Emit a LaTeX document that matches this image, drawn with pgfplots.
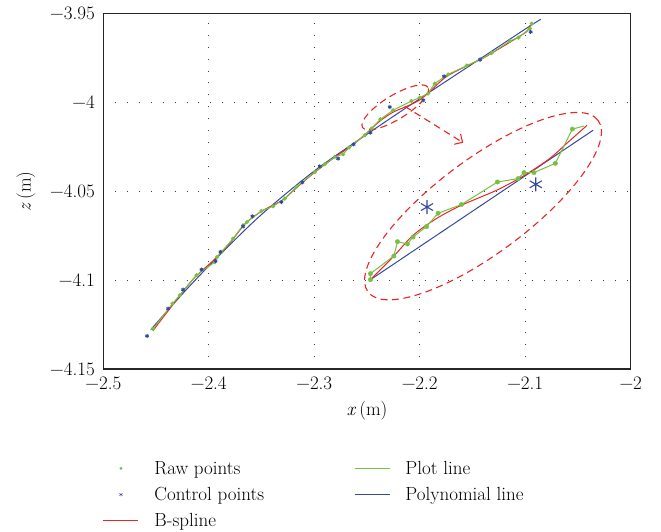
\documentclass[border=0pt]{standalone}
\usepackage{pgfplots}
\pgfplotsset{compat=1.18}
\usetikzlibrary{arrows.meta}
\definecolor{cgreen}{RGB}{118,192,67}
\definecolor{cred}{RGB}{232,38,38}
\definecolor{cblue}{RGB}{52,72,160}
\begin{document}
\begin{tikzpicture}[font=\fontsize{19bp}{23bp}\selectfont]
\path[use as bounding box] (-103.3bp,-163bp) rectangle (557.7bp,369bp);
\begin{axis}[
  scale only axis, width=527.4bp, height=355.2bp,
  xmin=-2.5, xmax=-2, ymin=-4.15, ymax=-3.95,
  /pgf/number format/assume math mode=true,
  xtick={-2.5,-2.4,-2.3,-2.2,-2.1,-2},
  xticklabels={−2.5,−2.4,−2.3,−2.2,−2.1,−2},
  ytick={-4.15,-4.1,-4.05,-4,-3.95},
  yticklabels={−4.15,−4.1,−4.05,−4,−3.95},
  major tick length=0pt,
  grid=major,
  major grid style={black!75, line width=0.9bp, dash pattern=on 0.9bp off 11bp},
  axis line style={black!85, line width=1.2bp},
  xticklabel style={yshift=-4bp},
  yticklabel style={xshift=-5bp},
  xlabel={\textit{x}\,(m)}, ylabel={\textit{z}\,(m)},
  xlabel style={yshift=-5bp},
  ylabel style={yshift=8bp},
  legend columns=2,
  legend cell align=left,
  legend image code/.code={\draw[mark repeat=2,mark phase=2,#1] plot coordinates {(0bp,0bp)(17.5bp,0bp)(35bp,0bp)};},
  legend style={draw=none, fill=none, at={(-0.001,-0.2528)}, anchor=north west,
    inner sep=0pt, row sep=7.5bp, column sep=13.4bp,
    /tikz/every even column/.append style={column sep=88bp}},
]
\addlegendimage{only marks, mark=*, mark size=1.2bp, color=cgreen}
\addlegendentry{Raw points}
\addlegendimage{color=cgreen, draw=cgreen, line width=1bp}
\addlegendentry{Plot line}
\addlegendimage{only marks, mark=asterisk, mark size=2bp, color=cblue}
\addlegendentry{Control points}
\addlegendimage{color=cblue, draw=cblue, line width=1bp}
\addlegendentry{Polynomial line}
\addlegendimage{color=cred, draw=cred, line width=1bp}
\addlegendentry{B-spline}

% polynomial line (main)
\addplot[cblue, line width=1bp, smooth, forget plot] coordinates {
(-2.4550,-4.1278) (-2.4200,-4.1045) (-2.3900,-4.0860) (-2.3500,-4.0630)
(-2.3000,-4.0385) (-2.2500,-4.0178) (-2.2000,-3.9978) (-2.1500,-3.9782)
(-2.1000,-3.9586) (-2.0853,-3.9531)};
% B-spline (main)
\addplot[cred, line width=1bp, smooth, forget plot] coordinates {
(-2.4530,-4.1285) (-2.4350,-4.1145) (-2.4150,-4.0995) (-2.3950,-4.0885)
(-2.3800,-4.0790) (-2.3650,-4.0680) (-2.3500,-4.0612) (-2.3300,-4.0548)
(-2.3150,-4.0470) (-2.3000,-4.0395) (-2.2800,-4.0305) (-2.2650,-4.0245)
(-2.2500,-4.0170) (-2.2380,-4.0105) (-2.2256,-4.0055) (-2.2123,-4.0021)
(-2.2000,-3.9985) (-2.1900,-3.9935) (-2.1750,-3.9855) (-2.1550,-3.9792)
(-2.1400,-3.9750) (-2.1200,-3.9680) (-2.1050,-3.9625) (-2.0985,-3.9600)
(-2.0955,-3.9565)};
% plot line + raw points (main)
\addplot[cgreen, line width=1bp, mark=*, mark size=1.5bp, forget plot] coordinates {
(-2.4528,-4.1273) (-2.4344,-4.1132) (-2.4275,-4.1085) (-2.4117,-4.0972)
(-2.3943,-4.0898) (-2.3921,-4.0869) (-2.3880,-4.0841) (-2.3770,-4.0766)
(-2.3675,-4.0691) (-2.3637,-4.0672) (-2.3501,-4.0610) (-2.3390,-4.0584)
(-2.3280,-4.0541) (-2.3169,-4.0475) (-2.2995,-4.0391) (-2.2900,-4.0347)
(-2.2806,-4.0306) (-2.2727,-4.0291) (-2.2670,-4.0253) (-2.2521,-4.0184)
(-2.2458,-4.0146) (-2.2373,-4.0094) (-2.2253,-4.0043) (-2.2079,-3.9991)
(-2.2000,-3.9972) (-2.1921,-3.9949) (-2.1858,-3.9893) (-2.1731,-3.9841)
(-2.1554,-3.9792) (-2.1428,-3.9758) (-2.1318,-3.9721) (-2.1144,-3.9653)
(-2.1064,-3.9634) (-2.0955,-3.9583) (-2.0938,-3.9555)};
% control points (main)
\addplot[only marks, cblue, mark=asterisk, mark size=2bp, line width=1bp, forget plot] coordinates {
(-2.4585,-4.1314) (-2.4386,-4.1160) (-2.4244,-4.1053) (-2.4069,-4.0940)
(-2.3936,-4.0892) (-2.3889,-4.0841) (-2.3675,-4.0697) (-2.3586,-4.0640)
(-2.3311,-4.0560) (-2.3112,-4.0449) (-2.2948,-4.0359) (-2.2774,-4.0315)
(-2.2626,-4.0235) (-2.2467,-4.0169) (-2.2284,-4.0025) (-2.1967,-3.9987)
(-2.1770,-3.9852) (-2.1428,-3.9758) (-2.0948,-3.9602)};

% inset (magnified)
\addplot[cblue, line width=1bp, forget plot] coordinates {(-2.2467,-4.0997) (-2.0357,-4.0156)};
\addplot[cred, line width=1bp, smooth, forget plot] coordinates {
(-2.2467,-4.0997) (-2.2253,-4.0869) (-2.2063,-4.0747) (-2.1842,-4.0653)
(-2.1605,-4.0578) (-2.1273,-4.0494) (-2.1005,-4.0409) (-2.0768,-4.0315)
(-2.0609,-4.0231) (-2.0414,-4.0128)};
\addplot[cgreen, line width=1bp, forget plot] coordinates {
(-2.2467,-4.0997) (-2.2467,-4.0963) (-2.2246,-4.0864) (-2.2211,-4.0783)
(-2.2117,-4.0796) (-2.2063,-4.0757) (-2.1936,-4.0698) (-2.1826,-4.0623)
(-2.1605,-4.0574) (-2.1263,-4.0447) (-2.1068,-4.0428) (-2.1011,-4.0394)
(-2.0917,-4.0394) (-2.0714,-4.0342) (-2.0553,-4.0149) (-2.0443,-4.0132)};
\addplot[only marks, cgreen, mark=*, mark size=2.2bp, forget plot] coordinates {
(-2.2467,-4.0997) (-2.2467,-4.0963) (-2.2246,-4.0864) (-2.2211,-4.0783)
(-2.2117,-4.0796) (-2.2063,-4.0757) (-2.1936,-4.0698) (-2.1826,-4.0623)
(-2.1605,-4.0574) (-2.1263,-4.0447) (-2.1068,-4.0428) (-2.1011,-4.0394)
(-2.0917,-4.0394) (-2.0714,-4.0342) (-2.0553,-4.0149)};
\addplot[only marks, cblue, mark=asterisk, mark size=7bp, line width=1.1bp, forget plot] coordinates {
(-2.1931,-4.0588) (-2.0900,-4.0460)};

% annotations
\draw[cred, line width=1.1bp, dash pattern=on 7bp off 4.5bp, rotate around={31.4:(axis cs:-2.2232,-4.0027)}]
  (axis cs:-2.2232,-4.0027) ellipse (38.4bp and 12bp);
\draw[cred, line width=1.1bp, dash pattern=on 7bp off 4.5bp, rotate around={36.7:(axis cs:-2.14,-4.0583)}]
  (axis cs:-2.14,-4.0583) ellipse (143.5bp and 47bp);
\draw[cred, line width=1.1bp, dash pattern=on 7bp off 4.5bp, -{Straight Barb[length=6bp,width=12bp]}]
  (axis cs:-2.2142,-4.0021) -- (axis cs:-2.1588,-4.0226);
\end{axis}
\end{tikzpicture}
\end{document}
